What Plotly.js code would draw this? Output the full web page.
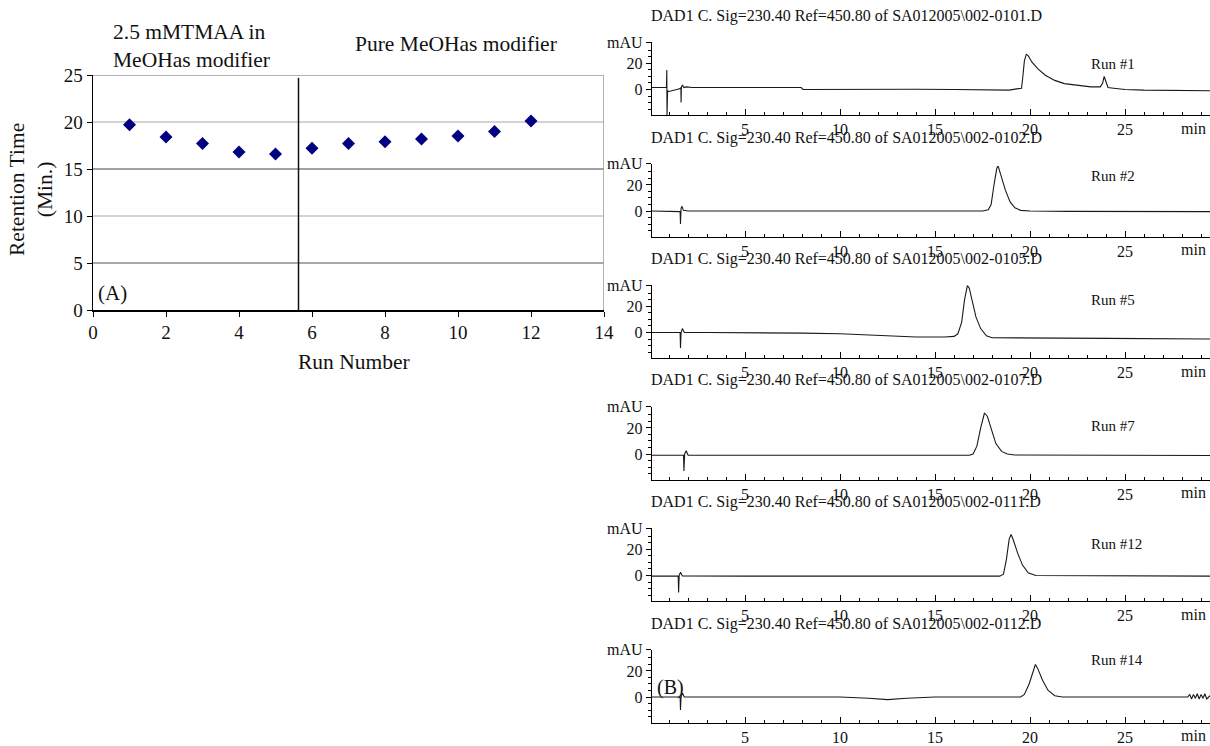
<!DOCTYPE html>
<html>
<head>
<meta charset="utf-8">
<script src="https://cdn.plot.ly/plotly-3.0.1.min.js"></script>
<style>html,body{margin:0;padding:0;background:#fff;}#chart{width:1210px;height:746px;}</style>
</head>
<body>
<div id="chart"></div>
<script>
// ---------- Panel (A): retention time vs run number ----------
const runNumbers = [1, 2, 3, 4, 5, 6, 7, 8, 9, 10, 11, 12];
const retentionTimes = [19.7, 18.4, 17.7, 16.8, 16.6, 17.2, 17.7, 17.9, 18.2, 18.5, 19.0, 20.1];
const modifierSwitchRun = 5.63;

// ---------- Panel (B): chromatograms (time in min, absorbance in mAU) ----------
const run1Time = [0.1, 0.5, 0.86, 0.88, 0.89, 0.92, 1.0, 1.3, 1.55, 1.62, 1.63, 1.645, 1.7, 1.78, 1.9, 2.2, 3.5, 5.0, 6.5, 7.95, 8.05, 10, 12, 14, 16, 18.6, 18.9, 19.3, 19.55, 19.62, 19.7, 19.8, 19.9, 20.1, 20.4, 20.8, 21.3, 21.8, 22.5, 23.2, 23.7, 23.82, 23.9, 23.98, 24.1, 24.4, 25, 26, 27.5, 29.47];
const run1Abs  = [1.5, 1.5, 1.5, 15, -20, -1, -1.5, -0.5, 0.5, 1.5, -10, 1.5, 3.5, 1.5, 2, 1.5, 1.5, 1.6, 1.5, 1.5, 0, 0.2, 0, 0.2, 0, 0, -0.5, 0.5, 1, 10, 22, 27, 26, 21, 16, 11, 7, 4.5, 3, 2, 2, 5, 10, 6, 1.5, 1, 0, -0.5, -0.5, -1];

const run2Time = [0.1, 1.5, 1.58, 1.6, 1.63, 1.68, 1.75, 2.0, 5, 7, 9.8, 10, 13, 15, 17.5, 17.8, 17.95, 18.1, 18.25, 18.32, 18.45, 18.7, 18.95, 19.2, 19.5, 20, 22, 25, 27, 29.47];
const run2Abs  = [0, 0, -0.5, -10, 2, 3.6, 0.5, 0, 0, 0.3, 0.4, 0, 0.2, 0, 0, 1, 5, 20, 33, 34.5, 28, 16, 7, 2.5, 0.5, 0, -0.3, -0.5, -0.3, -0.5];

const run5Time = [0.1, 1.5, 1.58, 1.6, 1.63, 1.7, 1.8, 3, 6, 8, 10, 12, 14, 15.5, 16.0, 16.2, 16.4, 16.55, 16.7, 16.8, 16.95, 17.15, 17.4, 17.7, 18, 20, 24, 29.47];
const run5Abs  = [0, 0, 0, -12, 0, 3, 0, 0, 0, -0.5, -1, -2.5, -3.5, -3.5, -3, -1, 8, 25, 36, 34, 25, 12, 3, -2.5, -4, -4, -4.5, -5];

const run7Time = [0.1, 1.7, 1.76, 1.78, 1.82, 1.9, 2.0, 5, 8, 10, 13, 15, 16.8, 17.0, 17.2, 17.4, 17.6, 17.75, 17.95, 18.2, 18.5, 18.8, 19.2, 22, 25, 29.47];
const run7Abs  = [-1, -1, -1, -13, 0, 2.5, -1, -1, -0.8, -0.8, -1, -1, -1, 0, 6, 20, 31.5, 29, 19, 8, 2, 0, -0.8, -1, -1.2, -1.2];

const run12Time = [0.1, 1.45, 1.48, 1.5, 1.53, 1.6, 1.7, 5, 10, 15, 18.4, 18.6, 18.75, 18.9, 19.0, 19.1, 19.35, 19.6, 19.9, 20.3, 25, 29.47];
const run12Abs  = [-0.5, -0.5, -0.5, -13, 0, 2.5, -0.3, -0.5, -0.5, -0.5, -0.5, 1, 12, 28, 31.5, 28, 17, 8, 2, 0, -0.5, -0.5];

const run14Time = [0.1, 1.55, 1.58, 1.6, 1.63, 1.7, 1.8, 5, 10, 11.5, 12.5, 13.5, 15, 19.5, 19.7, 19.95, 20.15, 20.28, 20.4, 20.65, 20.95, 21.3, 21.7, 25, 28.3, 28.4, 28.5, 28.6, 28.7, 28.8, 28.9, 29.0, 29.1, 29.2, 29.3, 29.47];
const run14Abs  = [0, 0, 0, -10, 0, 3, 0, 0, 0, -1, -2, -1, 0, 0, 2, 10, 20, 25, 22, 13, 5, 1, 0, 0, 0, 2, -1.5, 2, -1, 2.5, -1.5, 2, -1, 2.5, -1.5, 1];

const chromTimes = [run1Time, run2Time, run5Time, run7Time, run12Time, run14Time];
const chromAbs = [run1Abs, run2Abs, run5Abs, run7Abs, run12Abs, run14Abs];
const runLabels = ["Run #1", "Run #2", "Run #5", "Run #7", "Run #12", "Run #14"];
const fileNames = ["0101", "0102", "0105", "0107", "0111", "0112"];
const xTickLabels = ["5", "10", "15", "20", "25"];

// ---------- layout helpers ----------
const W = 1210, H = 746;
const FONT = "Liberation Serif, Times New Roman, serif";
const px = v => v / W;
const py = v => 1 - v / H;

const data = [];
const layout = {
  width: W, height: H,
  margin: {l: 0, r: 0, t: 0, b: 0},
  paper_bgcolor: "#ffffff",
  plot_bgcolor: "rgba(0,0,0,0)",
  showlegend: false,
  font: {family: FONT, color: "#111"},
  annotations: [],
  shapes: []
};

// Panel A
data.push({
  x: runNumbers, y: retentionTimes, type: "scatter", mode: "markers",
  marker: {symbol: "diamond", size: 10, color: "#000080"},
  xaxis: "x", yaxis: "y", cliponaxis: false
});
layout.xaxis = {
  domain: [px(93), px(604)], range: [0, 14], dtick: 2, tick0: 0,
  showgrid: false, zeroline: false, showline: true, linecolor: "#000", linewidth: 1.5,
  ticks: "outside", ticklen: 5, tickcolor: "#000",
  tickfont: {family: FONT, size: 19, color: "#111"}, anchor: "y"
};
layout.yaxis = {
  domain: [py(310), py(75)], range: [0, 25], dtick: 5, tick0: 0,
  showgrid: false, zeroline: false, showline: true, linecolor: "#000", linewidth: 1.5,
  ticks: "outside", ticklen: 5, tickcolor: "#000",
  tickfont: {family: FONT, size: 19, color: "#111"}, anchor: "x"
};
const gridColors = {5: "#555", 10: "#aaa", 15: "#444", 20: "#aaa"};
[5, 10, 15, 20].forEach(g => {
  layout.shapes.push({type: "line", xref: "x", yref: "y", x0: 0, x1: 14, y0: g, y1: g,
    line: {color: gridColors[g], width: 1.2}, layer: "below"});
});
layout.shapes.push({type: "line", xref: "x", yref: "y", x0: 0, x1: 14, y0: 25, y1: 25, line: {color: "#999", width: 1.5}, layer: "below"});
layout.shapes.push({type: "line", xref: "x", yref: "y", x0: 14, x1: 14, y0: 0, y1: 25, line: {color: "#999", width: 1.5}, layer: "below"});
layout.shapes.push({type: "line", xref: "x", yref: "y", x0: modifierSwitchRun, x1: modifierSwitchRun, y0: 0, y1: 24.7, line: {color: "#111", width: 1.5}});

layout.annotations.push(
  {xref: "paper", yref: "paper", x: px(111), y: py(46), xanchor: "left", yanchor: "middle", align: "left", showarrow: false,
   text: "2.5 mMTMAA in<br>MeOHas modifier", font: {family: FONT, size: 21.5, color: "#111"}},
  {xref: "paper", yref: "paper", x: px(353), y: py(44), xanchor: "left", yanchor: "middle", showarrow: false,
   text: "Pure MeOHas modifier", font: {family: FONT, size: 21.5, color: "#111"}},
  {xref: "paper", yref: "paper", x: px(96), y: py(293), xanchor: "left", yanchor: "middle", showarrow: false,
   text: "(A)", font: {family: FONT, size: 21, color: "#111"}},
  {xref: "paper", yref: "paper", x: px(31), y: py(190), xanchor: "center", yanchor: "middle", showarrow: false, textangle: -90,
   text: "Retention Time<br>(Min.)", font: {family: FONT, size: 21.5, color: "#111"}},
  {xref: "paper", yref: "paper", x: px(354), y: py(362), xanchor: "center", yanchor: "middle", showarrow: false,
   text: "Run Number", font: {family: FONT, size: 21.5, color: "#111"}}
);

// Panel B
const period = 121.5;
const yTop = 36.5, yBottom = -19.6;
const runLabelY = [64, 176, 300, 426, 544, 660];
for (let k = 0; k < 6; k++) {
  const T = 42 + period * k;
  const B = T + 73;
  const xa = "xaxis" + (k + 2), ya = "yaxis" + (k + 2);
  const xs = "x" + (k + 2), ys = "y" + (k + 2);
  data.push({
    x: chromTimes[k], y: chromAbs[k], type: "scatter", mode: "lines",
    line: {color: "#1a1a1a", width: 1.1}, xaxis: xs, yaxis: ys
  });
  layout[xa] = {
    domain: [px(652), 1], range: [0.1, 29.47], anchor: ys,
    tickmode: "array", tickvals: [5, 10, 15, 20, 25], ticktext: xTickLabels,
    ticks: "inside", ticklen: 6, tickcolor: "#000",
    minor: {tickmode: "linear", tick0: 0, dtick: 1, ticks: "inside", ticklen: 3, tickcolor: "#000"},
    showgrid: false, zeroline: false, showline: true, linecolor: "#000", linewidth: 1.2,
    tickfont: {family: FONT, size: 16, color: "#111"}
  };
  layout[ya] = {
    domain: [py(B), py(T)], range: [yBottom, yTop], anchor: xs,
    tickmode: "array", tickvals: [0, 20, yTop], ticktext: ["0", "20", "mAU"],
    ticks: "outside", ticklen: 5, tickcolor: "#000",
    minor: {tickmode: "array", tickvals: [-15, -10, -5, 5, 10, 15, 25, 30], ticks: "outside", ticklen: 3, tickcolor: "#000"},
    showgrid: false, zeroline: false, showline: true, linecolor: "#000", linewidth: 1.2,
    tickfont: {family: FONT, size: 16, color: "#111"}
  };
  layout.annotations.push(
    {xref: "paper", yref: "paper", x: px(649), y: py(T - 26), xanchor: "left", yanchor: "middle", showarrow: false,
     text: "DAD1 C. Sig=230.40 Ref=450.80 of SA012005\\002-" + fileNames[k] + ".D",
     font: {family: FONT, size: 16, color: "#111"}},
    {xref: "paper", yref: "paper", x: px(1089), y: py(runLabelY[k]), xanchor: "left", yanchor: "middle", showarrow: false,
     text: runLabels[k], font: {family: FONT, size: 15, color: "#111"}},
    {xref: "paper", yref: "paper", x: px(1208), y: py(B + 13), xanchor: "right", yanchor: "middle", showarrow: false,
     text: "min", font: {family: FONT, size: 16, color: "#111"}}
  );
}
layout.annotations.push({xref: "paper", yref: "paper", x: px(655), y: py(687), xanchor: "left", yanchor: "middle", showarrow: false,
  text: "(B)", font: {family: FONT, size: 20, color: "#111"}});

Plotly.newPlot("chart", data, layout, {displayModeBar: false, staticPlot: true});
</script>
</body>
</html>
